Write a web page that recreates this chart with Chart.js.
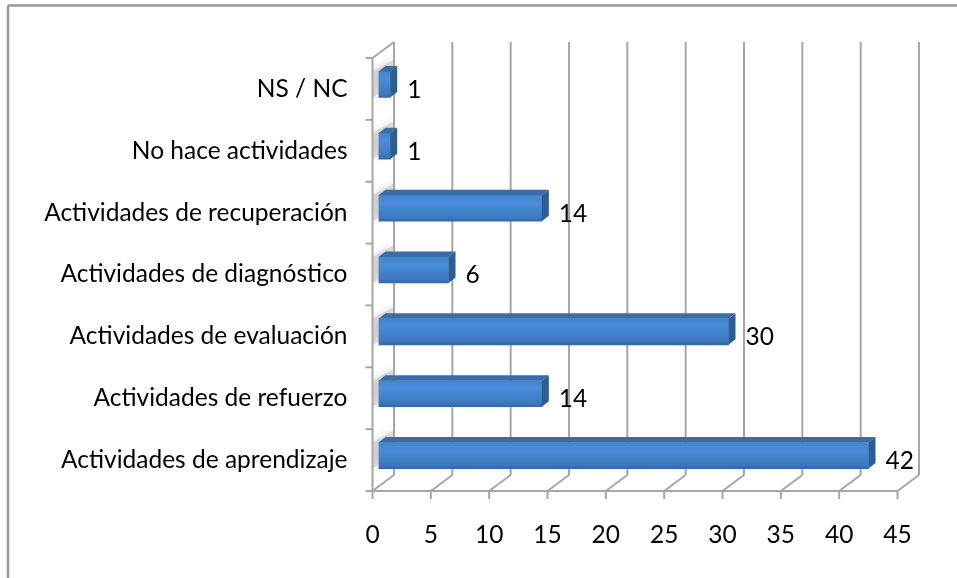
<!DOCTYPE html>
<html>
<head>
<meta charset="utf-8">
<script src="https://cdn.jsdelivr.net/npm/chart.js@4.4.1/dist/chart.umd.min.js"></script>
<style>
  html, body { margin: 0; padding: 0; background: #fff; }
  #wrap { width: 957px; height: 578px; position: relative; }
</style>
</head>
<body>
<div id="wrap"><canvas id="chart" width="957" height="578"></canvas></div>
<script>
const categories = [
  'NS / NC',
  'No hace actividades',
  'Actividades de recuperación',
  'Actividades de diagnóstico',
  'Actividades de evaluación',
  'Actividades de refuerzo',
  'Actividades de aprendizaje'
];
const counts = [1, 1, 14, 6, 30, 14, 42];
const axisMax = 45;
const axisStep = 5;

const FONT = { family: 'Lato, "Liberation Sans", sans-serif', size: 24.5 };

// depth of the floor/wall and of the bars
const WALL = { dx: 21.5, dy: -16 };
const BAR_SHIFT = { dx: 6, dy: -4.5 };
const BAR_DEPTH = { dx: 7, dy: -5.5 };
const BAR_H = 26;
const LINE = '#a6a6a6';

function line(ctx, x1, y1, x2, y2) {
  ctx.beginPath();
  ctx.moveTo(x1, y1);
  ctx.lineTo(x2, y2);
  ctx.stroke();
}

const frame3d = {
  id: 'frame3d',
  beforeDraw(chart) {
    const ctx = chart.ctx;
    ctx.save();
    ctx.fillStyle = '#fff';
    ctx.fillRect(0, 0, chart.width, chart.height);
    ctx.strokeStyle = '#9a9a9a';
    ctx.lineWidth = 2.5;
    line(ctx, 8, 5.5, chart.width + 2, 5.5);
    line(ctx, 8, 5.5, 8, chart.height + 2);
    ctx.restore();
  },
  beforeDatasetsDraw(chart) {
    const { ctx, chartArea: a, scales: { x, y } } = chart;
    const meta = chart.getDatasetMeta(0);
    ctx.save();

    // left side wall
    ctx.beginPath();
    ctx.moveTo(a.left, a.top);
    ctx.lineTo(a.left + WALL.dx, a.top + WALL.dy);
    ctx.lineTo(a.left + WALL.dx, a.bottom + WALL.dy);
    ctx.lineTo(a.left, a.bottom);
    ctx.closePath();
    ctx.fillStyle = '#fff';
    ctx.fill();
    ctx.save();
    ctx.clip();
    // soft shading on the wall around each bar end
    meta.data.forEach((bar) => {
      const t = bar.y - BAR_H / 2 + BAR_SHIFT.dy;
      const b = bar.y + BAR_H / 2 + BAR_SHIFT.dy;
      ctx.beginPath();
      ctx.moveTo(a.left - 4, t + 2);
      ctx.lineTo(a.left + WALL.dx, t + WALL.dy + 4);
      ctx.lineTo(a.left + WALL.dx, b + WALL.dy + 4);
      ctx.lineTo(a.left - 4, b + 2);
      ctx.closePath();
      ctx.shadowColor = 'rgba(0,0,0,0.3)';
      ctx.shadowBlur = 8;
      ctx.fillStyle = 'rgba(190,190,190,0.45)';
      ctx.fill();
    });
    ctx.restore();

    ctx.strokeStyle = LINE;
    ctx.lineWidth = 2;
    line(ctx, a.left, a.top, a.left, a.bottom);
    line(ctx, a.left, a.top, a.left + WALL.dx, a.top + WALL.dy);

    // back wall gridlines + floor lines
    x.ticks.forEach((t) => {
      const px = x.getPixelForValue(t.value);
      line(ctx, px + WALL.dx, a.top + WALL.dy, px + WALL.dx, a.bottom + WALL.dy);
      line(ctx, px, a.bottom, px + WALL.dx, a.bottom + WALL.dy);
      line(ctx, px, a.bottom, px, a.bottom + 8);
    });
    line(ctx, a.left, a.bottom, a.right, a.bottom);

    // category tick marks on the front left edge
    for (let i = 0; i <= categories.length; i++) {
      const yy = y.getPixelForValue(i - 0.5);
      line(ctx, a.left - 7, yy, a.left, yy);
    }
    ctx.restore();

    // bars are drawn a bit into the depth
    ctx.save();
    ctx.translate(BAR_SHIFT.dx, BAR_SHIFT.dy);
  },
  afterDatasetsDraw(chart) {
    const { ctx, scales: { x, y } } = chart;
    const meta = chart.getDatasetMeta(0);
    meta.data.forEach((bar) => {
      const { x: x1, y: cy, base } = bar.getProps(['x', 'y', 'base'], true);
      const top = cy - BAR_H / 2;
      const bot = cy + BAR_H / 2;
      // top face
      ctx.beginPath();
      ctx.moveTo(base, top);
      ctx.lineTo(x1, top);
      ctx.lineTo(x1 + BAR_DEPTH.dx, top + BAR_DEPTH.dy);
      ctx.lineTo(base + BAR_DEPTH.dx, top + BAR_DEPTH.dy);
      ctx.closePath();
      ctx.fillStyle = '#3a6ca5';
      ctx.fill();
      // end face
      ctx.beginPath();
      ctx.moveTo(x1, top);
      ctx.lineTo(x1 + BAR_DEPTH.dx, top + BAR_DEPTH.dy);
      ctx.lineTo(x1 + BAR_DEPTH.dx, bot + BAR_DEPTH.dy);
      ctx.lineTo(x1, bot);
      ctx.closePath();
      ctx.fillStyle = '#2d5d93';
      ctx.fill();
    });
    ctx.restore();

    // value labels
    ctx.save();
    ctx.font = `${FONT.size}px ${FONT.family}`;
    ctx.fillStyle = '#000';
    ctx.textAlign = 'left';
    ctx.textBaseline = 'middle';
    counts.forEach((v, i) => {
      ctx.fillText(String(v), x.getPixelForValue(v) + 23, y.getPixelForValue(i) + 1);
    });
    ctx.restore();
  }
};

function barFill(c) {
  const chart = c.chart;
  const y = chart.scales.y;
  if (!chart.chartArea || !y) return '#4281cb';
  const cy = y.getPixelForValue(c.dataIndex);
  const g = chart.ctx.createLinearGradient(0, cy - BAR_H / 2, 0, cy + BAR_H / 2);
  g.addColorStop(0, '#4485cf');
  g.addColorStop(0.3, '#4a8dd9');
  g.addColorStop(0.85, '#3c79c0');
  g.addColorStop(1, '#3468a8');
  return g;
}

new Chart(document.getElementById('chart'), {
  type: 'bar',
  data: {
    labels: categories,
    datasets: [{
      data: counts,
      backgroundColor: barFill,
      borderWidth: 0,
      barThickness: BAR_H
    }]
  },
  plugins: [frame3d],
  options: {
    indexAxis: 'y',
    responsive: false,
    animation: false,
    events: [],
    layout: { padding: { top: 58, right: 59.5, left: 0, bottom: 0 } },
    plugins: { legend: { display: false }, tooltip: { enabled: false } },
    scales: {
      x: {
        min: 0,
        max: axisMax,
        grid: { display: false, drawTicks: false },
        border: { display: false },
        ticks: { stepSize: axisStep, color: '#000', font: FONT, padding: 29.5, maxRotation: 0 },
        afterFit(scale) { scale.height = 87; }
      },
      y: {
        grid: { display: false, drawTicks: false },
        border: { display: false },
        ticks: { color: '#000', font: FONT, padding: 25, autoSkip: false },
        afterFit(scale) { scale.width = 372.5; }
      }
    }
  }
});
</script>
</body>
</html>
